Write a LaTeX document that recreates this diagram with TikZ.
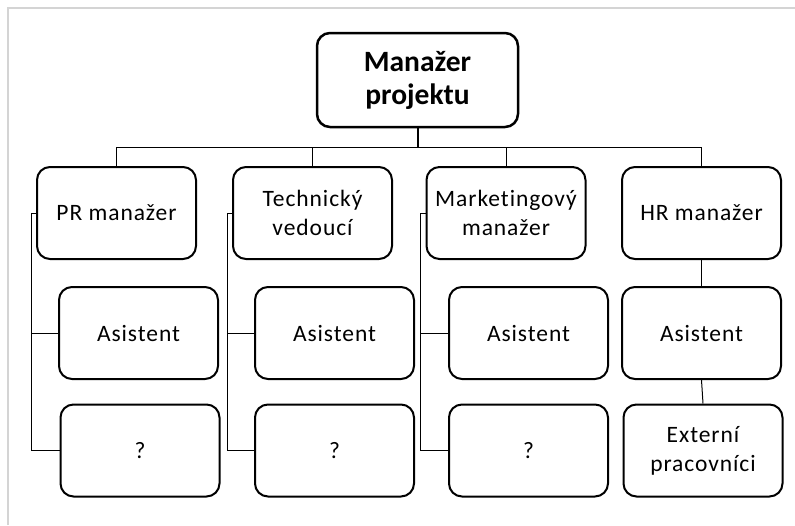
\documentclass[tikz,border=0pt]{standalone}
\usepackage{fontspec}
\setmainfont{Carlito}[Ligatures={NoCommon}]
\begin{document}
\begin{tikzpicture}[x=1pt,y=-1pt,
  box/.style={draw=black, line width=2pt, rounded corners=13pt, fill=white,
    minimum width=159pt, minimum height=92pt, align=center, inner sep=2pt,
    font=\fontsize{23.5}{29}\selectfont\addfontfeature{LetterSpace=4}},
  headbox/.style={box, line width=2.5pt, minimum width=201pt, minimum height=94pt,
    font=\fontsize{29.5}{33}\selectfont\bfseries},
  link/.style={draw=black, line width=1pt},
  mainlink/.style={draw=black, line width=2pt}
]
\useasboundingbox (0,0) rectangle (795,525);
% page frame
\draw[line width=2pt, draw=black!17] (8,525) -- (8,8) -- (795,8);

% head
\node[headbox] (head) at (417.5,80) {Manažer\\projektu};

% first level
\node[box] (pr)   at (116.5,213) {PR manažer};
\node[box] (tech) at (312.5,213) {Technický\\vedoucí};
\node[box] (mkt)  at (506,213)   {Marketingový\\manažer};
\node[box] (hr)   at (701.5,213) {HR manažer};

% assistants
\node[box] (pras)   at (138.5,333) {Asistent};
\node[box] (techas) at (334.5,333) {Asistent};
\node[box] (mktas)  at (528.5,333) {Asistent};
\node[box] (hras)   at (701.5,333) {Asistent};

% third row
\node[box] (prq)   at (140,450.5) {?};
\node[box] (techq) at (334.5,450.5) {?};
\node[box] (mktq)  at (528.5,450.5) {?};
\node[box] (ext)   at (703,450.5) {Externí\\pracovníci};

% connector bar under the head
\coordinate (bar) at (417.5,147);
\draw[mainlink] (head.south) -- (bar);
\draw[link] (pr.north) -- (pr.north |- bar) -- (hr.north |- bar) -- (hr.north);
\draw[link] (tech.north) -- (tech.north |- bar);
\draw[link] (mkt.north) -- (mkt.north |- bar);

% side branches
\foreach \m/\a/\q in {pr/pras/prq, tech/techas/techq, mkt/mktas/mktq}{
  \draw[link] (\m.west) -- ++(-5,0) coordinate (\m-spine) |- (\q.west);
  \draw[link] (\m-spine |- \a.west) -- (\a.west);
}

% HR chain
\draw[link] (hr.south) -- (hras.north);
\draw[link] (hras.south) -- (ext.north);
\end{tikzpicture}
\end{document}
